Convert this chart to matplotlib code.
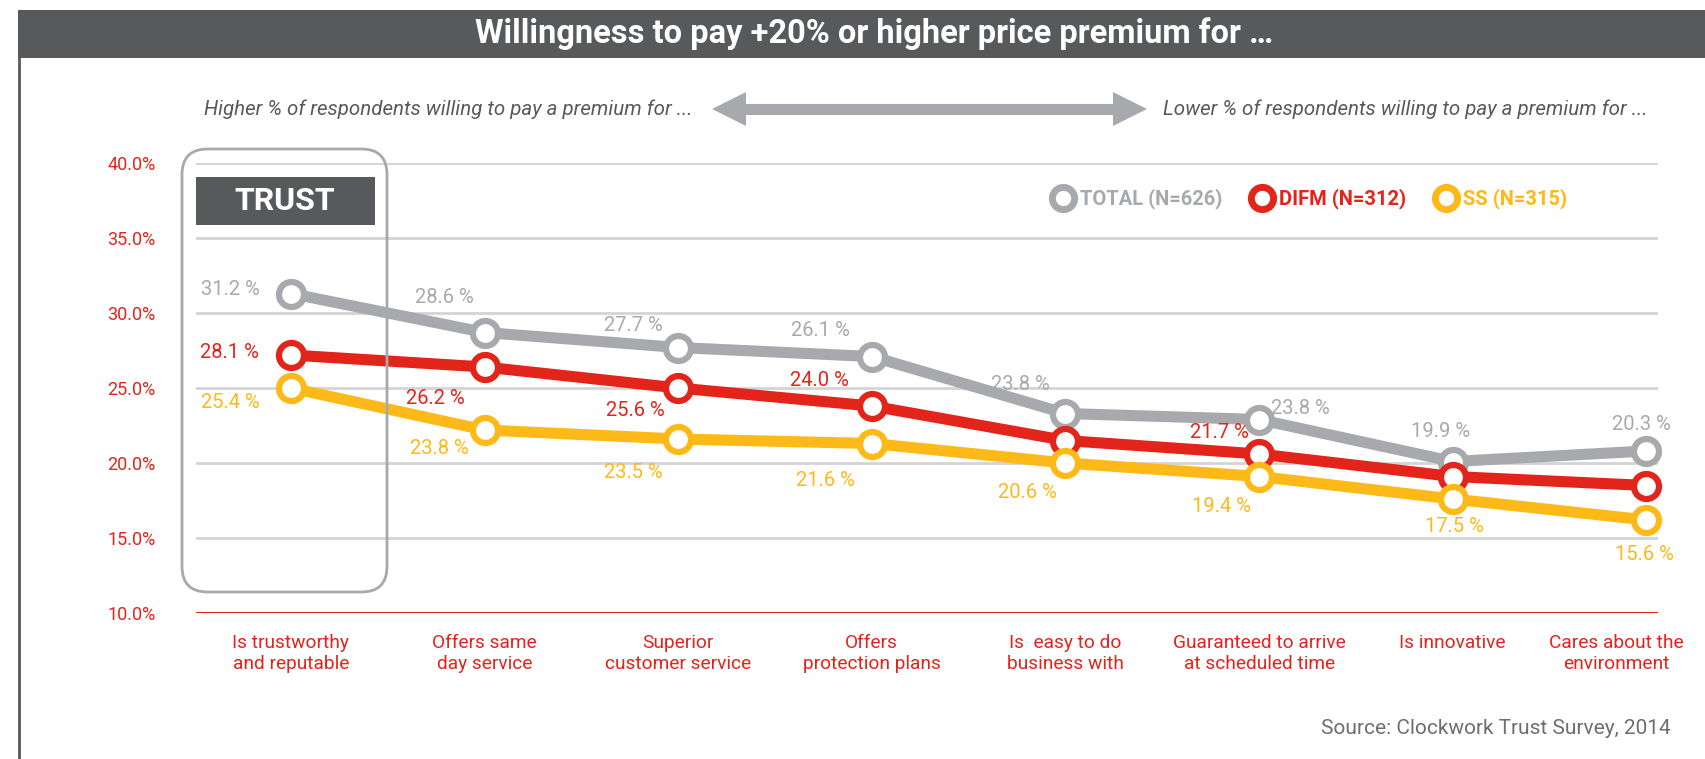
import matplotlib
matplotlib.use("Agg")
import matplotlib.pyplot as plt
from matplotlib import font_manager
from matplotlib.lines import Line2D
from matplotlib.patches import FancyBboxPatch, Rectangle
from matplotlib.transforms import ScaledTranslation

# ---------- DATA ----------
categories = ["Is trustworthy\nand reputable", "Offers same\nday service",
              "Superior\ncustomer service", "Offers\nprotection plans",
              "Is  easy to do\nbusiness with", "Guaranteed to arrive\nat scheduled time",
              "Is innovative", "Cares about the\nenvironment"]

# positions as drawn in the chart
total = [31.3, 28.7, 27.7, 27.1, 23.3, 22.9, 20.1, 20.8]
difm = [27.2, 26.4, 25.0, 23.8, 21.5, 20.6, 19.1, 18.5]
ss = [25.0, 22.2, 21.6, 21.3, 20.0, 19.1, 17.6, 16.2]

# printed data labels
total_labels = ["31.2 %", "28.6 %", "27.7 %", "26.1 %", "23.8 %", "23.8 %", "19.9 %", "20.3 %"]
difm_labels = ["28.1 %", "26.2 %", "25.6 %", "24.0 %", "", "21.7 %", "", ""]
ss_labels = ["25.4 %", "23.8 %", "23.5 %", "21.6 %", "20.6 %", "19.4 %", "17.5 %", "15.6 %"]

series_names = ["TOTAL (N=626)", "DIFM (N=312)", "SS (N=315)"]
y_ticks = [10, 15, 20, 25, 30, 35, 40]

# ---------- STYLE ----------
GRAY = "#a7a9ac"
RED = "#e3241b"
YELLOW = "#fcb918"
DARK = "#58595b"

names = {f.name for f in font_manager.fontManager.ttflist}
NARROW = "Liberation Sans Narrow" if "Liberation Sans Narrow" in names else "Roboto"
plt.rcParams["font.family"] = [NARROW, "DejaVu Sans"]

# label offsets in pixels (dx, dy) relative to each point
total_off = [(-60, 4), (-40, 35), (-45, 22), (-51, 26), (-45, 29), (41, 11), (-12, 30), (-5, 26)]
difm_off = [(-61, 3), (-49, -32), (-43, -23), (-52, 25), (0, 0), (-40, 21), (0, 0), (0, 0)]
ss_off = [(-61, -15), (-45, -18), (-45, -33), (-46, -37), (-38, -29), (-38, -30), (2, -28), (-2, -35)]

W, H = 1705, 759
fig = plt.figure(figsize=(W / 100, H / 100), dpi=100)


def fx(px):
    return px / W


def fy(py):
    return 1 - py / H


ax = fig.add_axes([fx(196), fy(613), fx(1658) - fx(196), fy(163) - fy(613)])
ax.set_xlim(-0.49, 7.06)
ax.set_ylim(10, 40)

for sp in ax.spines.values():
    sp.set_visible(False)

for t in y_ticks[1:]:
    ax.axhline(t, color="#d4d4d4", lw=2, zorder=1)
ax.axhline(10, color=RED, lw=2.2, zorder=1)

ax.set_yticks(y_ticks)
ax.set_yticklabels([f"{t:.1f}%" for t in y_ticks], color=RED, fontsize=13)
ax.tick_params(axis="y", length=0, pad=29)

x = list(range(len(categories)))
ax.set_xticks(x)
ax.set_xticklabels(categories, color=RED, fontsize=13.8, linespacing=1.25, va="top")
ax.tick_params(axis="x", length=0, pad=15)
# last label sits a little left of its point, as in the original
last = ax.get_xticklabels()[-1]
last.set_transform(last.get_transform() + ScaledTranslation(-0.30, 0, fig.dpi_scale_trans))

series = [(total, total_labels, total_off, GRAY),
          (difm, difm_labels, difm_off, RED),
          (ss, ss_labels, ss_off, YELLOW)]

for z, (vals, labs, offs, col) in enumerate(series):
    ax.plot(x, vals, color=col, lw=8, marker="o", ms=18, mfc="white", mec=col,
            mew=4.5, zorder=3 + z, clip_on=False)
    for xi, v, lab, (dx, dy) in zip(x, vals, labs, offs):
        if lab:
            ax.annotate(lab, (xi, v), xytext=(dx, dy), textcoords="offset pixels",
                        ha="center", va="center", color=col, fontsize=14.5, zorder=10)

# ---------- legend ----------
handles = [Line2D([], [], ls="none", marker="o", ms=16, mfc="white", mec=c, mew=5)
           for c in [GRAY, RED, YELLOW]]
fig.legend(handles, series_names, loc="center", bbox_to_anchor=(fx(1311), fy(199)),
           ncol=3, frameon=False, handlelength=0.8, handletextpad=0.45,
           columnspacing=1.55, prop={"family": NARROW, "weight": "bold", "size": 14.5},
           labelcolor=[GRAY, RED, YELLOW])

# ---------- title bar and frame ----------
fig.add_artist(Rectangle((fx(18), fy(58)), 1 - fx(18), fy(10) - fy(58),
                         transform=fig.transFigure, color=DARK, lw=0))
fig.add_artist(Line2D([fx(19), fx(19)], [fy(58), 0], transform=fig.transFigure,
                      color=DARK, lw=2))
fig.text(fx(874), fy(34), "Willingness to pay +20% or higher price premium for \u2026",
         ha="center", va="center", color="white", fontsize=23.5, fontweight="bold")

# ---------- subtitles + arrow ----------
fig.text(fx(204), fy(109), "Higher % of respondents willing to pay a premium for ...",
         ha="left", va="center", color=DARK, fontsize=14.8, style="italic")
fig.text(fx(1163), fy(109), "Lower % of respondents willing to pay a premium for ...",
         ha="left", va="center", color=DARK, fontsize=14.8, style="italic")
fig.add_artist(Line2D([fx(730), fx(1130)], [fy(109), fy(109)], transform=fig.transFigure,
                      color=GRAY, lw=8, solid_capstyle="butt"))
fig.add_artist(Line2D([fx(729)], [fy(109)], transform=fig.transFigure, ls="none",
                      marker="<", ms=24, color=GRAY, mew=0))
fig.add_artist(Line2D([fx(1130)], [fy(109)], transform=fig.transFigure, ls="none",
                      marker=">", ms=24, color=GRAY, mew=0))

# ---------- TRUST highlight ----------
fig.add_artist(FancyBboxPatch((fx(182), fy(592)), fx(387) - fx(182), fy(149) - fy(592),
                              boxstyle="round,pad=0,rounding_size=0.015",
                              transform=fig.transFigure, fc="none", ec=GRAY, lw=2,
                              mutation_aspect=W / H, zorder=2))
fig.add_artist(Rectangle((fx(196), fy(225)), fx(375) - fx(196), fy(177) - fy(225),
                         transform=fig.transFigure, color=DARK, lw=0))
fig.text(fx(285), fy(201), "TRUST", ha="center", va="center", color="white",
         fontsize=23, fontweight="bold")

fig.text(fx(1671), fy(728), "Source: Clockwork Trust Survey, 2014", ha="right",
         va="center", color="#6d6e71", fontsize=15)

fig.savefig("out.png", dpi=100)
